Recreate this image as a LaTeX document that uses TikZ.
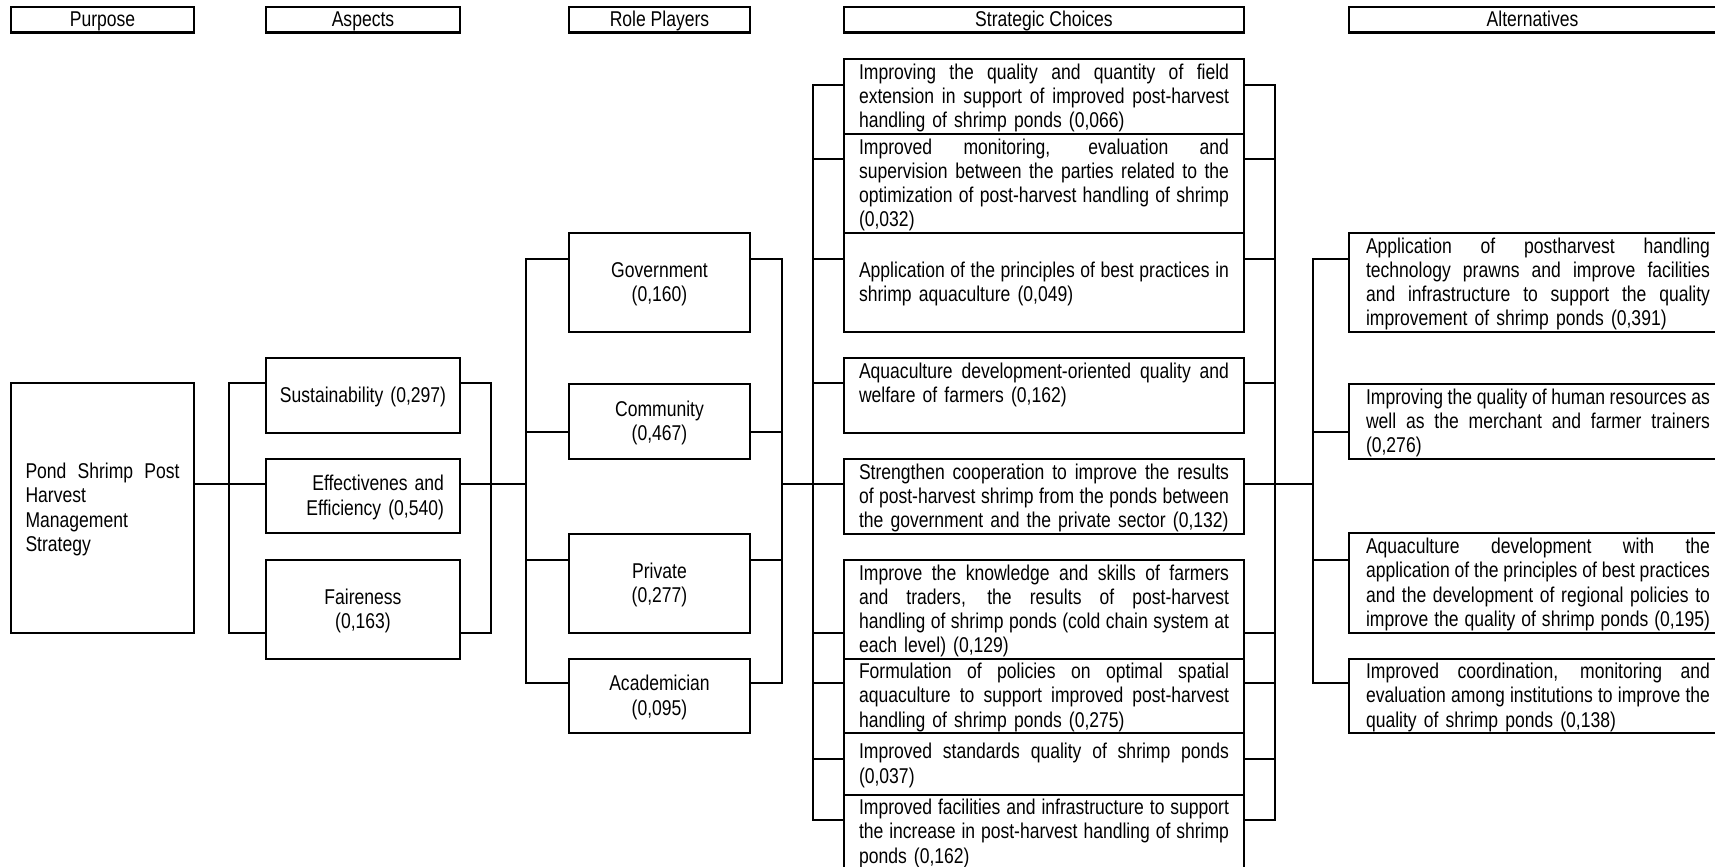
\documentclass[tikz,border=0pt]{standalone}
\usepackage{fontspec}
\setmainfont{Liberation Sans}[FakeStretch=0.82]
\newcommand\fs{\fontsize{10.7pt}{12.15pt}\selectfont}
\newcommand\st{\rule[-2.6pt]{0pt}{12.15pt}}
\newcommand\tw{185pt}
\newcommand\JL[1]{\leavevmode\hbox to \tw{\spaceskip=\fontdimen2\font plus 5em minus .35\fontdimen2\font #1}}
\newcommand\J[1]{\JL{#1}\\}
\tikzset{
  ln/.style={line width=1.1pt},
  bx/.style={draw, line width=1.1pt, rectangle, anchor=north west, outer sep=0pt,
    inner ysep=0pt, font=\fs, execute at begin node=\st, execute at end node=\st},
  hd/.style={bx, align=center, minimum height=12.75pt, inner xsep=0pt},
  pbox/.style={bx, text width=77pt, inner xsep=7.25pt, align=left,
    execute at begin node={\renewcommand\tw{77pt}\st}},
  abox/.style={bx, text width=81pt, inner xsep=8pt},
  rbox/.style={bx, text width=80pt, inner xsep=5.25pt, align=center},
  sbox/.style={bx, text width=185pt, inner xsep=7.5pt, align=left,
    execute at begin node={\renewcommand\tw{185pt}\st}},
  lbox/.style={bx, text width=172pt, inner xsep=8.5pt, align=left,
    execute at begin node={\renewcommand\tw{172pt}\st}},
}
\begin{document}
\begin{tikzpicture}[x=0.5pt, y=-0.5pt]
\useasboundingbox (0,0) rectangle (1715,867);
\clip (0,0) rectangle (1715,867);
% headers
\node[hd, minimum width=91.5pt] (H1) at (11,7) {Purpose};
\node[hd, minimum width=97pt] (H2) at (266,7) {Aspects};
\node[hd, minimum width=90.5pt] (H3) at (569,7) {Role Players};
\node[hd, minimum width=200pt] (H4) at (844,7) {Strategic Choices};
\node[hd, minimum width=183.5pt] (H5) at (1349,7) {Alternatives};
% purpose
\node[pbox, minimum height=125pt] (P) at (11,383) {\J{Pond Shrimp Post}Harvest\\Management\\Strategy};
% aspects
\node[abox, text width=90pt, inner xsep=3.5pt, align=center, minimum height=37.5pt] (A1) at (266,358) {Sustainability (0,297)};
\node[abox, align=right, minimum height=37pt] (A2) at (266,459) {Effectivenes and\\Efficiency (0,540)};
\node[abox, align=center, minimum height=49.5pt] (A3) at (266,560) {Faireness\\(0,163)};
% role players
\node[rbox, minimum height=49.5pt] (R1) at (569,233) {Government\\(0,160)};
\node[rbox, minimum height=37.5pt] (R2) at (569,384) {Community\\(0,467)};
\node[rbox, minimum height=49.5pt] (R3) at (569,534) {Private\\(0,277)};
\node[rbox, minimum height=37pt] (R4) at (569,659) {Academician\\(0,095)};
% strategic choices
\node[sbox, minimum height=37.5pt] (S1) at (844,59) {\J{Improving the quality and quantity of field}\J{extension in support of improved post-harvest}handling of shrimp ponds (0,066)};
\node[sbox, minimum height=49.5pt] (S2) at (844,134) {\J{Improved monitoring, evaluation and}\J{supervision between the parties related to the}\J{optimization of post-harvest handling of shrimp}(0,032)};
\node[sbox, minimum height=49.5pt] (S3) at (844,233) {\J{Application of the principles of best practices in}shrimp aquaculture (0,049)};
\node[sbox, minimum height=37.5pt] (S4) at (844,358) {\J{Aquaculture development-oriented quality and}welfare of farmers (0,162)\\};
\node[sbox, minimum height=37.5pt] (S5) at (844,459) {\J{Strengthen cooperation to improve the results}\J{of post-harvest shrimp from the ponds between}the government and the private sector (0,132)};
\node[sbox, minimum height=49.5pt] (S6) at (844,560) {\J{Improve the knowledge and skills of farmers}\J{and traders, the results of post-harvest}\J{handling of shrimp ponds (cold chain system at}each level) (0,129)};
\node[sbox, minimum height=37pt] (S7) at (844,659) {\J{Formulation of policies on optimal spatial}\J{aquaculture to support improved post-harvest}handling of shrimp ponds (0,275)};
\node[sbox, minimum height=31pt] (S8) at (844,733) {\J{Improved standards quality of shrimp ponds}(0,037)};
\node[sbox, minimum height=37pt] (S9) at (844,795) {\J{Improved facilities and infrastructure to support}\J{the increase in post-harvest handling of shrimp}ponds (0,162)};
% alternatives
\node[lbox, minimum height=49.5pt] (L1) at (1349,233) {\J{Application of postharvest handling}\J{technology prawns and improve facilities}\J{and infrastructure to support the quality}improvement of shrimp ponds (0,391)};
\node[lbox, minimum height=37.5pt] (L2) at (1349,384) {\J{Improving the quality of human resources as}\J{well as the merchant and farmer trainers}(0,276)};
\node[lbox, minimum height=50pt] (L3) at (1349,533) {\J{Aquaculture development with the}\J{application of the principles of best practices}\J{and the development of regional policies to}\JL{improve the quality of shrimp ponds (0,195)}};
\node[lbox, minimum height=37pt] (L4) at (1349,659) {\J{Improved coordination, monitoring and}\J{evaluation among institutions to improve the}quality of shrimp ponds (0,138)};
% bracket junctions
\coordinate (aL) at (229,484);
\coordinate (aR) at (491,484);
\coordinate (rL) at (526,484);
\coordinate (rR) at (782,484);
\coordinate (sL) at (813,484);
\coordinate (sR) at (1275,484);
\coordinate (lL) at (1313,484);
% purpose -> aspects
\draw[ln] (P.east |- aL) -- (A2.west |- aL);
\draw[ln] (A1.west |- 0,383) -- (aL |- 0,383) -- (aL |- 0,633) -- (A3.west |- 0,633);
\draw[ln] (A1.east |- 0,383) -- (aR |- 0,383) -- (aR |- 0,633) -- (A3.east |- 0,633);
\draw[ln] (A2.east |- aR) -- (rL);
% role players
\draw[ln] (R1.west |- 0,259) -- (rL |- 0,259) -- (rL |- 0,683) -- (R4.west |- 0,683);
\draw[ln] (R1.east |- 0,259) -- (rR |- 0,259) -- (rR |- 0,683) -- (R4.east |- 0,683);
\draw[ln] (R2.west |- 0,432) -- (rL |- 0,432);
\draw[ln] (R3.west |- 0,560) -- (rL |- 0,560);
\draw[ln] (R2.east |- 0,432) -- (rR |- 0,432);
\draw[ln] (R3.east |- 0,560) -- (rR |- 0,560);
\draw[ln] (rR) -- (sL);
% strategic choices
\draw[ln] (S1.west |- 0,85) -- (sL |- 0,85) -- (sL |- 0,820) -- (S9.west |- 0,820);
\draw[ln] (S1.east |- 0,85) -- (sR |- 0,85) -- (sR |- 0,820) -- (S9.east |- 0,820);
\foreach \n/\y in {S2/159,S3/259,S4/383,S5/484,S6/633,S7/683,S8/759}{
  \draw[ln] (\n.west |- 0,\y) -- (sL |- 0,\y);
  \draw[ln] (\n.east |- 0,\y) -- (sR |- 0,\y);
}
\draw[ln] (sR) -- (lL);
% alternatives
\draw[ln] (L1.west |- 0,259) -- (lL |- 0,259) -- (lL |- 0,683) -- (L4.west |- 0,683);
\draw[ln] (L2.west |- 0,432) -- (lL |- 0,432);
\draw[ln] (L3.west |- 0,560) -- (lL |- 0,560);
\end{tikzpicture}
\end{document}
